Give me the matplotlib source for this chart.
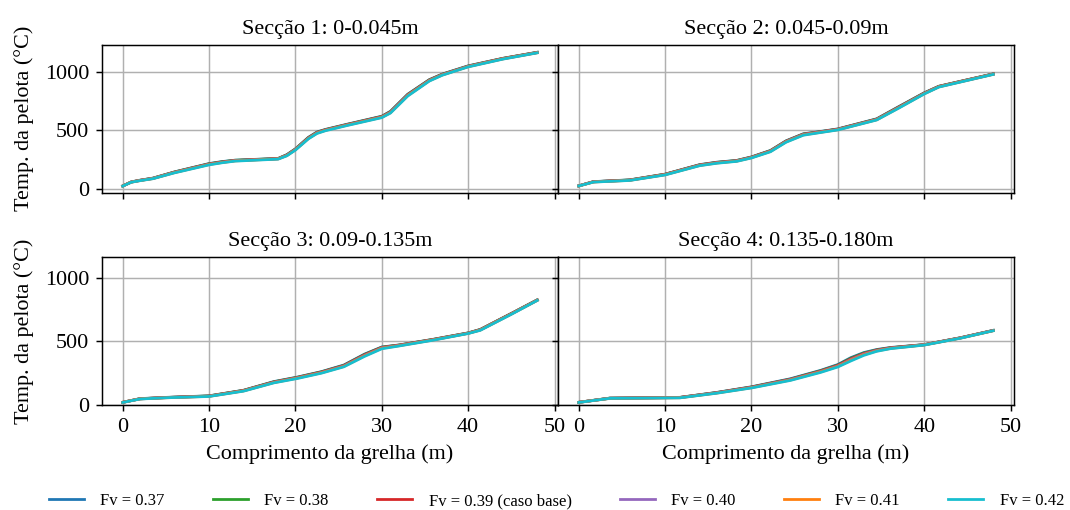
import numpy as np
import matplotlib.pyplot as plt

plt.rcParams["font.family"] = ["Liberation Serif", "DejaVu Serif"]
plt.rcParams["font.size"] = 12
plt.rcParams["axes.grid"] = True

fv_labels = ["Fv = 0.37", "Fv = 0.38", "Fv = 0.39 (caso base)",
             "Fv = 0.40", "Fv = 0.41", "Fv = 0.42"]
fv_colors = ["tab:blue", "tab:green", "tab:red",
             "tab:purple", "tab:orange", "tab:cyan"]

titulos = ["Secção 1: 0-0.045m", "Secção 2: 0.045-0.09m",
           "Secção 3: 0.09-0.135m", "Secção 4: 0.135-0.180m"]

# comprimento da grelha (m) e temperatura (°C) por secção e por Fv
x_s1 = [0, 1, 2, 3.5, 6, 10, 11.5, 13, 18, 19, 20, 21.5, 22.5, 23.5, 26, 30,
        31, 33, 35.5, 37, 40, 44, 48]
t_s1 = [
    [25, 60, 74, 92, 145, 216, 233, 245, 260, 292, 342, 440, 486, 508, 552, 620, 662, 808, 932, 980, 1050, 1114, 1166],
    [25, 59, 73, 91, 144, 214, 231, 244, 259, 290, 340, 437, 483, 506, 550, 618, 659, 805, 930, 978, 1048, 1113, 1165],
    [25, 59, 73, 90, 142, 212, 229, 242, 258, 288, 338, 435, 481, 504, 548, 616, 656, 802, 928, 976, 1046, 1112, 1164],
    [25, 58, 72, 89, 141, 210, 227, 241, 257, 286, 336, 432, 478, 502, 546, 613, 653, 799, 925, 974, 1045, 1110, 1163],
    [25, 58, 71, 88, 139, 208, 225, 239, 256, 284, 334, 430, 476, 500, 544, 611, 650, 796, 923, 972, 1043, 1109, 1162],
    [24, 57, 70, 87, 137, 205, 223, 237, 254, 282, 331, 427, 473, 497, 541, 608, 647, 792, 920, 970, 1041, 1107, 1161],
]

x_s2 = [0, 1.7, 5.9, 10, 14, 16, 18.3, 20, 22.2, 24, 26, 28, 30, 34.5, 37, 40,
        41.7, 48]
t_s2 = [
    [26, 62, 77, 126, 207, 228, 243, 273, 328, 410, 470, 490, 512, 598, 700, 820, 876, 982],
    [26, 61, 76, 125, 205, 226, 242, 271, 326, 408, 468, 488, 510, 596, 697, 818, 875, 981],
    [26, 61, 75, 124, 204, 225, 240, 270, 324, 406, 466, 487, 509, 594, 695, 816, 874, 980],
    [26, 60, 74, 122, 202, 223, 239, 268, 322, 404, 464, 485, 507, 592, 692, 814, 872, 979],
    [25, 59, 73, 121, 200, 221, 237, 266, 320, 401, 461, 483, 505, 590, 690, 812, 871, 978],
    [25, 58, 72, 119, 198, 219, 235, 264, 317, 398, 458, 481, 503, 588, 687, 810, 869, 977],
]

x_s3 = [0, 2, 5.1, 10, 14, 17.5, 20.2, 23, 25.6, 28, 30, 32, 36, 40, 41.4, 45,
        48]
t_s3 = [
    [21, 50, 60, 72, 116, 184, 219, 262, 314, 400, 456, 472, 517, 567, 594, 720, 827],
    [21, 49, 59, 71, 115, 182, 217, 260, 311, 397, 454, 471, 516, 566, 593, 719, 826],
    [21, 49, 59, 70, 114, 180, 215, 258, 309, 394, 452, 470, 515, 565, 592, 718, 825],
    [21, 48, 58, 69, 112, 178, 213, 255, 306, 390, 449, 468, 513, 564, 590, 716, 824],
    [21, 48, 57, 68, 111, 176, 211, 253, 303, 386, 446, 466, 512, 563, 589, 715, 823],
    [20, 47, 57, 67, 109, 174, 208, 250, 300, 382, 442, 464, 510, 562, 587, 713, 822],
]

x_s4 = [0, 3.6, 11.7, 16, 20, 24.5, 28, 30, 31.5, 33, 34.5, 36.1, 40, 44.2, 48]
t_s4 = [
    [21, 54, 60, 99, 143, 206, 272, 318, 372, 412, 436, 452, 475, 529, 587],
    [21, 54, 59, 98, 141, 203, 269, 314, 367, 408, 433, 450, 474, 528, 586],
    [21, 53, 59, 97, 140, 201, 266, 311, 362, 404, 431, 449, 474, 528, 586],
    [21, 53, 58, 96, 138, 199, 263, 307, 357, 400, 428, 447, 473, 527, 585],
    [21, 52, 57, 94, 136, 196, 260, 303, 352, 395, 425, 445, 472, 526, 584],
    [20, 52, 56, 93, 134, 193, 256, 299, 346, 390, 422, 443, 471, 525, 584],
]

seccoes = [(x_s1, t_s1), (x_s2, t_s2), (x_s3, t_s3), (x_s4, t_s4)]

fig, axes = plt.subplots(2, 2, figsize=(1070 / 133, 510 / 133), dpi=133,
                         sharex=True, sharey="row")
fig.subplots_adjust(left=0.0953, right=0.9477, top=0.9118, bottom=0.2059,
                    wspace=0.0, hspace=0.44)

for ax, titulo, (x, temps) in zip(axes.flat, titulos, seccoes):
    for temp, cor, rotulo in zip(temps, fv_colors, fv_labels):
        ax.plot(x, temp, color=cor, lw=1.5, label=rotulo)
    ax.set_title(titulo, fontsize=12)
    ax.set_xticks(np.arange(0, 51, 10))

axes[0, 0].set_ylim(-31, 1228)
axes[1, 0].set_ylim(0, 1160)
axes[0, 0].set_yticks([0, 500, 1000])
axes[1, 0].set_yticks([0, 500, 1000])

for ax in axes[:, 0]:
    ax.set_ylabel("Temp. da pelota (°C)", labelpad=6)
for ax in axes[1, :]:
    ax.set_xlabel("Comprimento da grelha (m)")

handles, labels = axes[0, 0].get_legend_handles_labels()
fig.legend(handles, labels, loc="lower center", ncol=6, frameon=False,
           fontsize=9, bbox_to_anchor=(0.52, -0.028),
           handlelength=2.1, columnspacing=2.9, handletextpad=1.0)

fig.savefig("out.png", dpi=133)
